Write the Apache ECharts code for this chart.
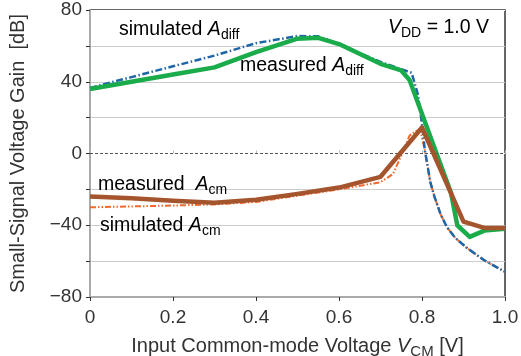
<!DOCTYPE html>
<html>
<head>
<meta charset="utf-8">
<script src="https://cdn.jsdelivr.net/npm/echarts@6/dist/echarts.min.js"></script>
<style>
  html, body { margin: 0; padding: 0; background: #fff; }
  #chart { width: 521px; height: 356px; }
</style>
</head>
<body>
<div id="chart"></div>
<script>
// measured differential gain
var measDiffX = [0, 0.1, 0.2, 0.3, 0.4, 0.5, 0.55, 0.6, 0.7, 0.75, 0.77, 0.87, 0.885, 0.915, 0.95, 1.0];
var measDiffY = [36, 40, 44, 48, 56.5, 64, 64.5, 61, 50, 46.3, 41, -22, -40, -46.5, -43, -42];
// simulated differential gain
var simDiffX = [0, 0.1, 0.2, 0.3, 0.4, 0.5, 0.55, 0.6, 0.65, 0.7, 0.75, 0.775, 0.79, 0.8, 0.807, 0.815, 0.82, 0.83, 0.845, 0.86, 0.88, 0.91, 0.95, 1.0];
var simDiffY = [36.6, 42.6, 48.6, 54.6, 61.5, 65.5, 65.3, 61, 56, 51, 47, 45, 33, 16.5, 1.5, -9, -16, -24, -34, -41, -47, -53, -59.5, -66];
// measured common-mode gain
var measCmX = [0, 0.1, 0.2, 0.3, 0.4, 0.5, 0.6, 0.7, 0.8, 0.9, 0.95, 1.0];
var measCmY = [-24, -25, -26.3, -27.5, -25.8, -22.5, -19, -13, 14.5, -38, -41.5, -41.5];
// simulated common-mode gain
var simCmX = [0, 0.1, 0.2, 0.3, 0.4, 0.5, 0.6, 0.7, 0.73, 0.755, 0.77, 0.795, 0.807, 0.815, 0.82, 0.83, 0.845, 0.86, 0.88, 0.91, 0.95, 1.0];
var simCmY = [-30, -29.5, -29, -28.4, -27, -23.5, -20, -16, -11.5, 1.5, 10, 14, 1.5, -9, -16, -24, -34, -41, -47, -53, -59.5, -66];

var xTicks = [0, 0.2, 0.4, 0.6, 0.8, 1.0];
var yTicks = [-80, -40, 0, 40, 80];

function pairs(xs, ys) {
  return xs.map(function (x, i) { return [x, ys[i]]; });
}

var font = 'Liberation Sans, Arial, sans-serif';
var rich = {
  n: { fontFamily: font, fontSize: 19.5, color: '#333' },
  i: { fontFamily: font, fontSize: 19.5, color: '#333', fontStyle: 'italic' },
  s: { fontFamily: font, fontSize: 14, color: '#333', padding: [10, 0, 0, 0] }
};
var richAxis = {
  n: { fontFamily: font, fontSize: 20, color: '#333' },
  i: { fontFamily: font, fontSize: 20, color: '#333', fontStyle: 'italic' },
  s: { fontFamily: font, fontSize: 15, color: '#333', padding: [10, 0, 0, 0] }
};

function label(left, top, txt) {
  return {
    type: 'text', left: left, top: top, z: 10,
    style: { text: txt, rich: rich, font: '19.5px ' + font }
  };
}

var chart = echarts.init(document.getElementById('chart'));
var option = {
  animation: false,
  grid: {
    left: 90, right: 16, top: 10, bottom: 59,
    outerBoundsMode: 'none', containLabel: false,
    show: true, borderColor: '#333', borderWidth: 1.5
  },
  xAxis: [{
    type: 'value', min: 0, max: 1, interval: 0.2,
    name: '{n|Input Common-mode Voltage }{i|V}{s|CM}{n| [V]}',
    nameLocation: 'middle', nameGap: 37,
    nameTextStyle: { rich: richAxis },
    axisLine: { show: true, onZero: false, lineStyle: { color: '#aaa', width: 2 } },
    axisTick: { show: true, length: 4, lineStyle: { color: '#333' } },
    axisLabel: {
      fontFamily: font, fontSize: 19, color: '#333', margin: 11,
      formatter: function (v) {
        var t = xTicks.find(function (k) { return Math.abs(k - v) < 1e-6; });
        return t === 0 ? '0' : t.toFixed(1);
      }
    },
    splitLine: { show: false }
  }, {
    type: 'value', min: 0, max: 1, interval: 0.2,
    position: 'bottom',
    axisLine: { show: false, onZero: true },
    axisTick: { show: true, inside: true, length: 3, lineStyle: { color: '#bbb' } },
    axisLabel: { show: false },
    splitLine: { show: false }
  }],
  yAxis: {
    type: 'value', min: -80, max: 80, interval: 20,
    name: 'Small-Signal Voltage Gain  [dB]',
    nameLocation: 'middle', nameGap: 62,
    nameTextStyle: { fontFamily: font, fontSize: 20, color: '#333' },
    axisLine: { show: true, lineStyle: { color: '#aaa', width: 2 } },
    axisTick: { show: true, length: 4, lineStyle: { color: '#333' } },
    axisLabel: {
      fontFamily: font, fontSize: 19, color: '#333', margin: 8,
      formatter: function (v) {
        if (yTicks.indexOf(v) < 0) return '';
        return v < 0 ? '\u2212' + Math.abs(v) : String(v);
      }
    },
    splitLine: {
      show: true,
      lineStyle: {
        color: ['#fff', '#ccc', '#ccc', '#ccc', '#fff', '#ccc', '#ccc', '#ccc', '#fff'],
        width: 1.2
      }
    }
  },
  graphic: [
    label(119, 20, '{n|simulated }{i|A}{s|diff}'),
    label(240, 56, '{n|measured }{i|A}{s|diff}'),
    label(388, 18, '{i|V}{s|DD}{n| = 1.0 V}'),
    label(98, 175, '{n|measured  }{i|A}{s|cm}'),
    label(100, 216, '{n|simulated }{i|A}{s|cm}')
  ],
  series: [
    {
      name: 'simulated Acm', type: 'line', data: pairs(simCmX, simCmY),
      showSymbol: false, z: 2,
      lineStyle: { color: '#f06a2e', width: 2, type: [6, 2, 1.5, 2, 1.5, 2] },
      markLine: {
        silent: true, symbol: 'none', label: { show: false },
        lineStyle: { color: '#555', type: [3, 2], width: 1.2 },
        data: [{ yAxis: 0 }]
      }
    },
    {
      name: 'simulated Adiff', type: 'line', data: pairs(simDiffX, simDiffY),
      showSymbol: false, z: 3,
      lineStyle: { color: '#1f66a8', width: 2.5, type: [7, 2.5, 1.5, 2.5] }
    },
    {
      name: 'measured Adiff', type: 'line', data: pairs(measDiffX, measDiffY),
      showSymbol: false, z: 4,
      lineStyle: { color: '#1aab4b', width: 4.5, join: 'round' }
    },
    {
      name: 'measured Acm', type: 'line', data: pairs(measCmX, measCmY),
      showSymbol: false, z: 5,
      lineStyle: { color: '#a5552d', width: 4.5, join: 'round' }
    }
  ]
};
chart.setOption(option);
</script>
</body>
</html>
